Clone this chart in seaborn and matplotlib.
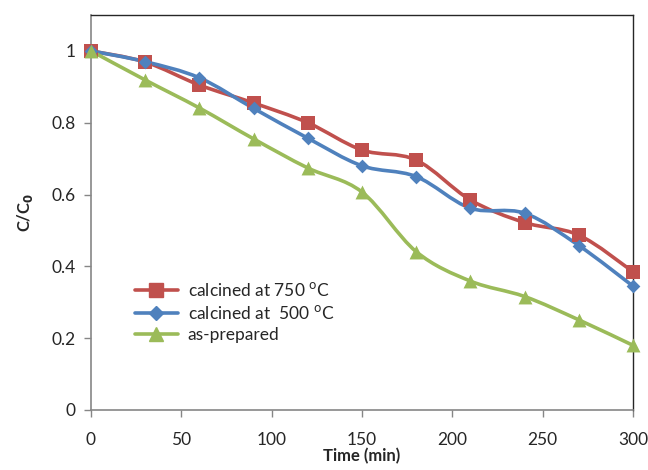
import numpy as np
import pandas as pd
import matplotlib
matplotlib.use("Agg")
import matplotlib.pyplot as plt
from matplotlib.path import Path
from matplotlib.patches import PathPatch
from matplotlib.lines import Line2D
import seaborn as sns

time_min = [0, 30, 60, 90, 120, 150, 180, 210, 240, 270, 300]
calc_750 = [1.0, 0.969, 0.905, 0.855, 0.80, 0.724, 0.696, 0.585, 0.522, 0.487, 0.385]
calc_500 = [1.0, 0.970, 0.925, 0.840, 0.757, 0.680, 0.650, 0.562, 0.548, 0.458, 0.345]
as_prep = [1.0, 0.919, 0.841, 0.755, 0.674, 0.607, 0.441, 0.359, 0.316, 0.251, 0.180]

labels = ["calcined at 750 $^{\\mathrm{o}}$C", "calcined at  500 $^{\\mathrm{o}}$C", "as-prepared"]
colors = ["#C0504D", "#4F81BD", "#9BBB59"]
markers = ["s", "D", "^"]
msizes = [10, 7, 10]
yticks = [0, 0.2, 0.4, 0.6, 0.8, 1]
xticks = [0, 50, 100, 150, 200, 250, 300]

sns.set_style("white")
plt.rcParams['font.family'] = ['Lato', 'DejaVu Sans']

fig = plt.figure(figsize=(6.48, 4.70), dpi=100)
ax = fig.add_axes([0.1404, 0.1277, 0.8364, 0.8404])

def smooth_path(x, y):
    x = np.asarray(x, float); y = np.asarray(y, float)
    n = len(x)
    verts = [(x[0], y[0])]
    codes = [Path.MOVETO]
    for i in range(n - 1):
        p0 = np.array([x[max(i - 1, 0)], y[max(i - 1, 0)]])
        p1 = np.array([x[i], y[i]])
        p2 = np.array([x[i + 1], y[i + 1]])
        p3 = np.array([x[min(i + 2, n - 1)], y[min(i + 2, n - 1)]])
        c1 = p1 + (p2 - p0) / 6.0
        c2 = p2 - (p3 - p1) / 6.0
        verts += [tuple(c1), tuple(c2), tuple(p2)]
        codes += [Path.CURVE4] * 3
    return Path(verts, codes)

series = [calc_750, calc_500, as_prep]
handles = []
for vals, lab, col, mk, ms in zip(series, labels, colors, markers, msizes):
    patch = PathPatch(smooth_path(time_min, vals), facecolor="none", edgecolor=col,
                      lw=2.6, capstyle="round", joinstyle="round", zorder=2)
    ax.add_patch(patch)
    df = pd.DataFrame({"t": time_min, "v": vals})
    sns.scatterplot(data=df, x="t", y="v", marker=mk, s=ms ** 2, color=col,
                    edgecolor=col, linewidth=0, ax=ax, zorder=3, legend=False,
                    clip_on=False)
    handles.append(Line2D([0], [0], color=col, lw=2.6, marker=mk, markersize=ms,
                          markeredgecolor=col, label=lab))

ax.set_xlim(0, 300)
ax.set_ylim(0, 1.1)
ax.set_xticks(xticks)
ax.set_yticks(yticks)
ax.set_yticklabels([f"{v:g}" for v in yticks])
ax.tick_params(axis="both", direction="out", length=5, width=1, color="#868686",
               labelsize=12.5, pad=6, bottom=True, left=True)
ax.tick_params(axis="x", pad=11)
for side in ["left", "bottom"]:
    ax.spines[side].set_color("#868686")
    ax.spines[side].set_linewidth(1.2)
for side in ["top", "right"]:
    ax.spines[side].set_color("#262626")
    ax.spines[side].set_linewidth(1.0)

ax.set_xlabel("Time (min)", fontsize=12, fontweight="bold", labelpad=0)
ax.set_ylabel("C/C$_\\mathbf{0}$", fontsize=12, fontweight="bold", labelpad=12)

leg = ax.legend(handles=handles, loc="upper left", bbox_to_anchor=(0.052, 0.365),
                frameon=False, fontsize=12.5, handlelength=2.5, handletextpad=0.55,
                labelspacing=0.28)

fig.savefig("out.png", dpi=100)
